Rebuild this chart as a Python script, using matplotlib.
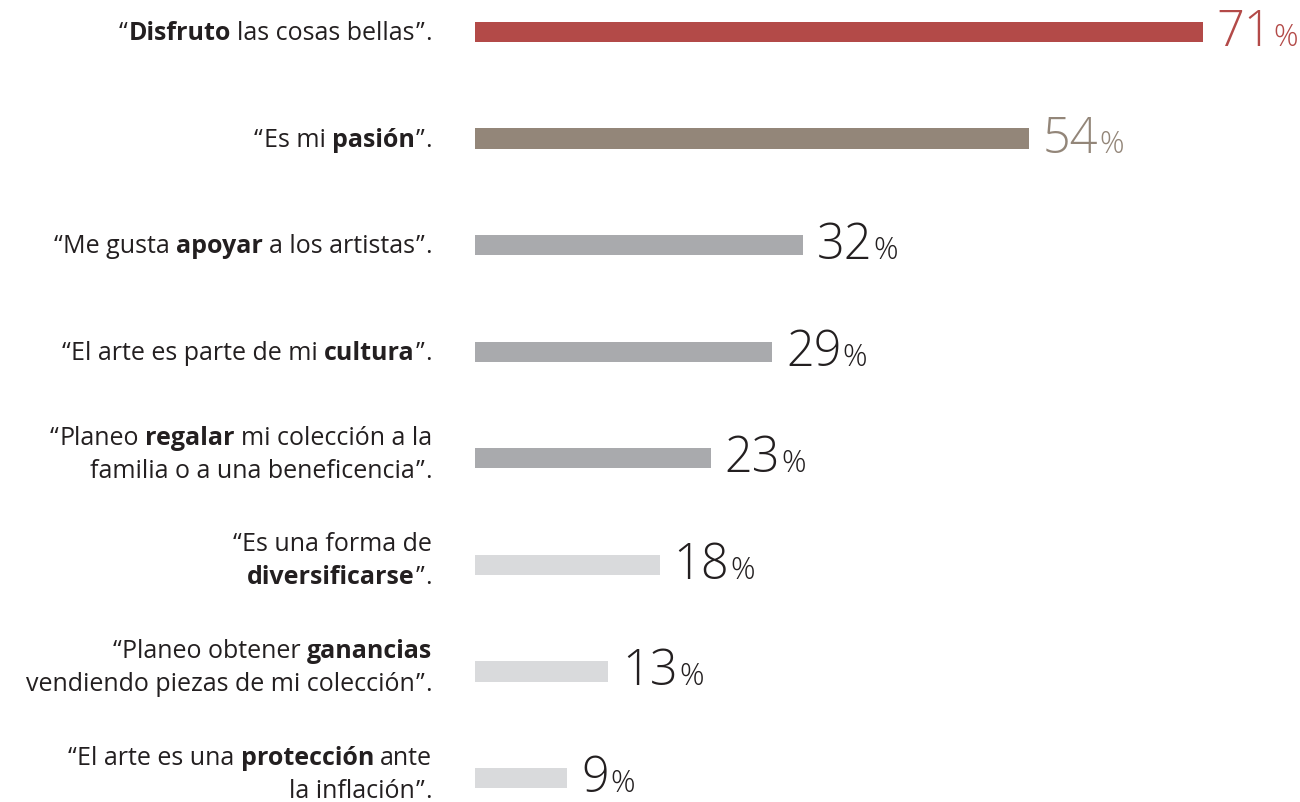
import matplotlib.pyplot as plt
from matplotlib.transforms import blended_transform_factory

plt.rcParams['font.family'] = ['Open Sans', 'DejaVu Sans']

# segments of each label: (text, bold), one list per line
labels = [
    [[("“", False), ("Disfruto", True), (" las cosas bellas”.", False)]],
    [[("“Es mi ", False), ("pasión", True), ("”.", False)]],
    [[("“Me gusta ", False), ("apoyar", True), (" a los artistas”.", False)]],
    [[("“El arte es parte de mi ", False), ("cultura", True), ("”.", False)]],
    [[("“Planeo ", False), ("regalar", True), (" mi colección a la", False)],
     [("familia o a una beneficencia”.", False)]],
    [[("“Es una forma de", False)],
     [("diversificarse", True), ("”.", False)]],
    [[("“Planeo obtener ", False), ("ganancias", True)],
     [("vendiendo piezas de mi colección”.", False)]],
    [[("“El arte es una ", False), ("protección", True), (" ante", False)],
     [("la inflación”.", False)]],
]
values = [71, 54, 32, 29, 23, 18, 13, 9]
bar_colors = ['#B34A48', '#938679', '#A9AAAD', '#A9AAAD', '#A9AAAD',
              '#D9DADC', '#D9DADC', '#D9DADC']
num_colors = ['#B34A48', '#938679', '#231F20', '#231F20', '#231F20',
              '#231F20', '#231F20', '#231F20']

W, H = 1300, 802
fig = plt.figure(figsize=(W / 100, H / 100), dpi=100)
ax = fig.add_axes([475 / W, 0, 1 - 475 / W, 1])
ax.set_xlim(0, 825 / 10.25)
ax.set_ylim(7.225, -0.3)
ax.axis('off')

ypos = list(range(len(values)))
ax.barh(ypos, values, height=0.19, color=bar_colors)

fig.canvas.draw()
renderer = fig.canvas.get_renderer()
px_per_unit = H / (7.225 + 0.3)
trans = blended_transform_factory(fig.transFigure, ax.transData)
FS = 18
GAP = 6   # ink gap for a word space, px
QGAP = 1  # extra air around the quote marks


def text_width(s, bold):
    t = fig.text(0, 0, s, fontsize=FS, fontweight='bold' if bold else 'normal')
    w = t.get_window_extent(renderer).width
    t.remove()
    return w


def flatten(line):
    # -> list of (piece, bold, gap_before)
    items = []
    pending = 0
    for s, bold in line:
        core = s.strip(' ')
        if s.startswith(' '):
            pending = GAP
        parts = []
        if core.startswith('“'):
            parts.append('“')
            core = core[1:]
        tail = []
        if core.endswith('”.'):
            core = core[:-2]
            tail = ['”', '.']
        if core:
            parts.append(core)
        parts += tail
        for p in parts:
            g = pending
            if items and (p in '”.' or items[-1][0] in '“”'):
                g = max(g, QGAP)
            items.append((p, bold and p not in '“”.', g))
            pending = 0
        if s.endswith(' '):
            pending = GAP
    return items


x_right = 432
for i, lines in enumerate(labels):
    nl = len(lines)
    shift = 0 if nl == 1 else -5
    for j, line in enumerate(lines):
        y = i + ((j - (nl - 1) / 2) * 33 + 8 + shift) / px_per_unit
        x = x_right
        for p, bold, g in reversed(flatten(line)):
            fig.text(x / W, y, p, transform=trans,
                     ha='right', va='baseline', fontsize=FS,
                     fontweight='bold' if bold else 'normal', color='#231F20')
            x -= text_width(p, bold) + g

# value labels
for i, v in enumerate(values):
    x0 = ax.transData.transform((v, 0))[0] + 14
    y = i + 14 / px_per_unit
    t = fig.text(x0 / W, y, str(v), transform=trans, ha='left', va='baseline',
                 fontsize=35, fontweight='light', color=num_colors[i])
    wn = t.get_window_extent(renderer).width
    fig.text((x0 + wn + 1) / W, y, '%', transform=trans, ha='left', va='baseline',
             fontsize=22, fontweight='light', color=num_colors[i])

fig.savefig('out.png', dpi=100)
